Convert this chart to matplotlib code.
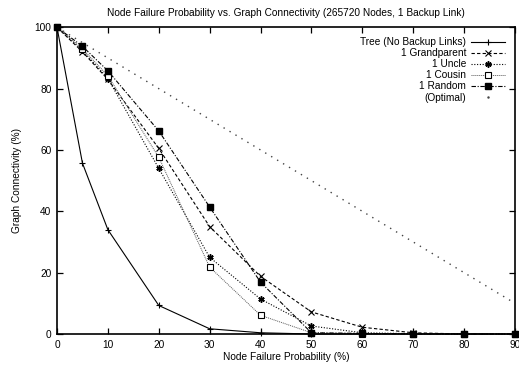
import matplotlib
matplotlib.use('Agg')
import matplotlib.pyplot as plt
from matplotlib.lines import Line2D

# failure probability (%)
fail_prob = [0, 5, 10, 20, 30, 40, 50, 60, 70, 80, 90]

# graph connectivity (%) per strategy
tree = [100, 55.7, 34.0, 9.3, 1.7, 0.4, 0.0, 0.0, 0.0, 0.0, 0.0]
grandparent = [100, 92.0, 83.0, 60.5, 35.0, 18.8, 7.2, 2.2, 0.4, 0.0, 0.0]
uncle = [100, 92.5, 83.3, 54.0, 25.0, 11.4, 2.6, 0.4, 0.1, 0.0, 0.0]
cousin = [100, 93.0, 84.2, 57.6, 21.8, 6.1, 0.4, 0.1, 0.0, 0.0, 0.0]
random_ = [100, 93.8, 85.8, 66.2, 41.4, 16.9, 0.4, 0.2, 0.0, 0.0, 0.0]
optimal_x = [0, 90]
optimal_y = [100, 10]

x_ticks = [0, 10, 20, 30, 40, 50, 60, 70, 80, 90]
y_ticks = [0, 20, 40, 60, 80, 100]

plt.rcParams['font.family'] = ['Liberation Sans', 'DejaVu Sans']
fs = 7.3

fig = plt.figure(figsize=(5.19, 3.70), dpi=100)
ax = fig.add_axes([57 / 519, 36 / 370, 458 / 519, 306.7 / 370])

lw = 0.8
h_tree, = ax.plot(fail_prob, tree, color='black', lw=lw, ls='-', marker='+', ms=4.5, mew=0.8,
                  clip_on=False)
h_gp, = ax.plot(fail_prob, grandparent, color='black', lw=lw, ls=(0, (3, 2)), marker='x', ms=4, mew=0.8,
                clip_on=False)
h_un, = ax.plot(fail_prob, uncle, color='black', lw=lw, ls=(0, (1, 1.5)), marker=(6, 2, 0), ms=4.5, mew=1.1,
                clip_on=False)
h_co, = ax.plot(fail_prob, cousin, color='#555555', lw=0.7, ls=(0, (1, 1)), marker='s', ms=4,
                mfc='white', mec='black', mew=0.8, clip_on=False)
h_ra, = ax.plot(fail_prob, random_, color='black', lw=lw, ls=(0, (4, 1.5, 1, 1.5)), marker='s', ms=4.5,
                mfc='black', mec='black', clip_on=False)
ax.plot(optimal_x, optimal_y, color='#444444', lw=1.0, ls=(0, (1, 4)), clip_on=False)
h_opt = Line2D([], [], ls='none', marker='.', ms=1.5, color='#444444')

ax.set_xlim(0, 90)
ax.set_ylim(0, 100)
ax.set_xticks(x_ticks)
ax.set_yticks(y_ticks)
ax.tick_params(direction='in', length=4, width=0.9, top=True, right=True, labelsize=fs, pad=4)
for s in ax.spines.values():
    s.set_linewidth(1.2)

ax.set_title('Node Failure Probability vs. Graph Connectivity (265720 Nodes, 1 Backup Link)',
             fontsize=fs, pad=8)
ax.set_xlabel('Node Failure Probability (%)', fontsize=fs, labelpad=2)
ax.set_ylabel('Graph Connectivity (%)', fontsize=fs, labelpad=9)

ax.legend([h_tree, h_gp, h_un, h_co, h_ra, h_opt],
          ['Tree (No Backup Links)', '1 Grandparent', '1 Uncle', '1 Cousin', '1 Random', '(Optimal)'],
          loc='upper right', frameon=False, markerfirst=False, fontsize=fs,
          handlelength=3.3, handletextpad=0.5, labelspacing=0.1,
          borderaxespad=0.6)

fig.savefig('out.png', dpi=100)
